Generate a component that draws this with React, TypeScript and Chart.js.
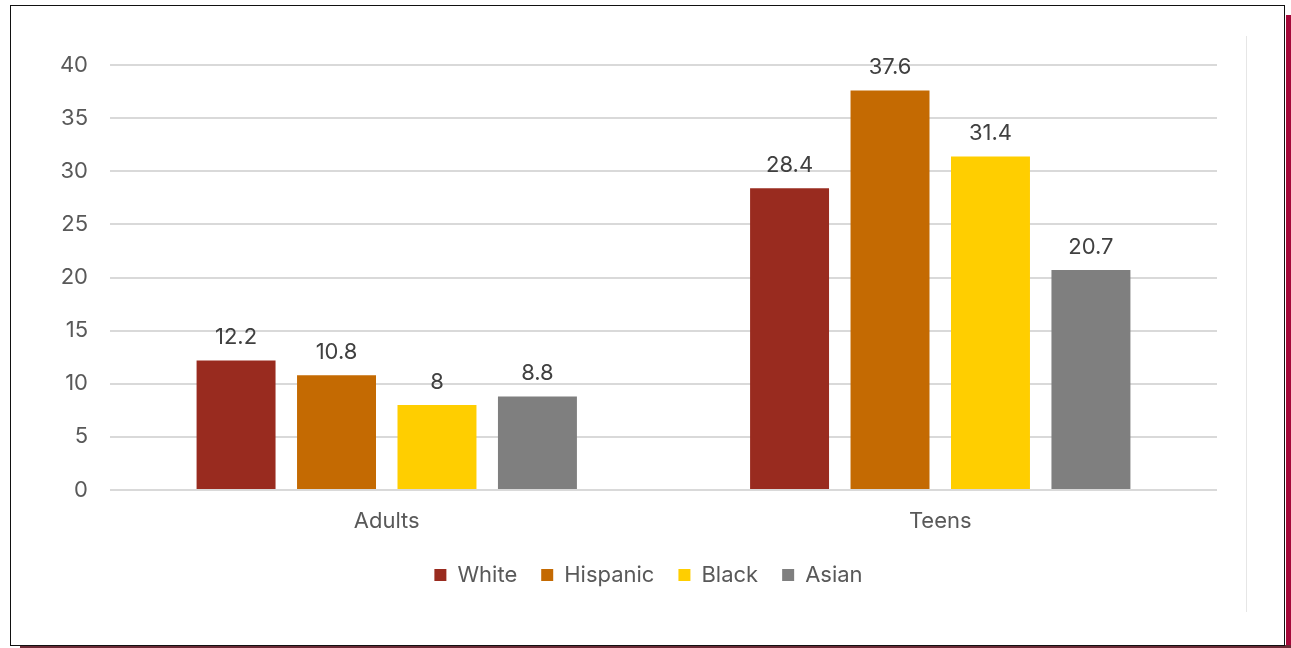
import React, { useEffect, useRef } from "react";
import { Chart, registerables } from "chart.js";

Chart.register(...registerables);

const categories = ["Adults", "Teens"];
const seriesNames = ["White", "Hispanic", "Black", "Asian"];
const whiteValues = [12.2, 28.4];
const hispanicValues = [10.8, 37.6];
const blackValues = [8, 31.4];
const asianValues = [8.8, 20.7];
const seriesColors = ["#992B1F", "#C46A02", "#FFCE00", "#7F7F7F"];
const yTicks = [0, 5, 10, 15, 20, 25, 30, 35, 40];

const FONT = "Inter, 'Noto Sans', sans-serif";
const FS = 22;

const dataLabelPlugin = {
  id: "dataLabels",
  afterDatasetsDraw(chart: any) {
    const ctx = chart.ctx;
    ctx.save();
    ctx.font = `${FS}px ${FONT}`;
    ctx.fillStyle = "#404040";
    ctx.textAlign = "center";
    ctx.textBaseline = "middle";
    chart.data.datasets.forEach((ds: any, i: number) => {
      const meta = chart.getDatasetMeta(i);
      meta.data.forEach((el: any, j: number) => {
        ctx.fillText(String(ds.data[j]), el.x, el.y - 23);
      });
    });
    ctx.restore();
  },
};

const legendShiftPlugin = {
  id: "legendShift",
  afterLayout(chart: any) {
    if (chart.legend) {
      chart.legend.left += 30;
      chart.legend.right += 30;
    }
  },
};

export default function App() {
  const ref = useRef<HTMLCanvasElement>(null);
  useEffect(() => {
    if (!ref.current) return;
    const allValues = [whiteValues, hispanicValues, blackValues, asianValues];
    const chart = new Chart(ref.current, {
      type: "bar",
      data: {
        labels: categories,
        datasets: seriesNames.map((name, i) => ({
          label: name,
          data: allValues[i],
          backgroundColor: seriesColors[i],
          borderWidth: 0,
          categoryPercentage: 0.726,
          barPercentage: 0.786,
        })),
      },
      options: {
        responsive: false,
        animation: false,
        layout: { padding: { left: 20, right: 23, top: 65, bottom: 44 } },
        plugins: {
          legend: {
            position: "bottom",
            labels: {
              boxWidth: 12,
              boxHeight: 12,
              padding: 24,
              color: "#595959",
              font: { family: FONT, size: FS },
            },
          },
          tooltip: { enabled: false },
        },
        scales: {
          x: {
            grid: { display: false, drawTicks: false },
            border: { display: false },
            ticks: { color: "#595959", font: { family: FONT, size: FS }, padding: 18 },
            afterFit(scale: any) {
              scale.height = 50;
            },
          },
          y: {
            min: 0,
            max: 40,
            afterBuildTicks(scale: any) {
              scale.ticks = yTicks.map((v) => ({ value: v }));
            },
            grid: { color: "#D9D9D9", lineWidth: 2, drawTicks: false },
            border: { display: false },
            ticks: { color: "#595959", font: { family: FONT, size: FS }, padding: 22 },
            afterFit(scale: any) {
              scale.width = 90;
            },
          },
        },
      },
      plugins: [dataLabelPlugin, legendShiftPlugin],
    });
    return () => chart.destroy();
  }, []);

  return (
    <div style={{ position: "fixed", left: 0, top: 0, width: 1291, height: 648, background: "#fff" }}>
      <div style={{ position: "absolute", left: 1286, top: 15, width: 5, height: 633, background: "#A5093A" }} />
      <div style={{ position: "absolute", left: 20, top: 645, width: 1271, height: 3, background: "#6B2A35" }} />
      <div
        style={{
          position: "absolute",
          left: 10,
          top: 5,
          width: 1273,
          height: 639,
          border: "1.5px solid #111",
          background: "#fff",
        }}
      />
      <div style={{ position: "absolute", left: 1246, top: 36, width: 1, height: 576, background: "#E6E6E6" }} />
      <canvas ref={ref} width={1240} height={640} style={{ position: "absolute", left: 0, top: 0 }} />
    </div>
  );
}
